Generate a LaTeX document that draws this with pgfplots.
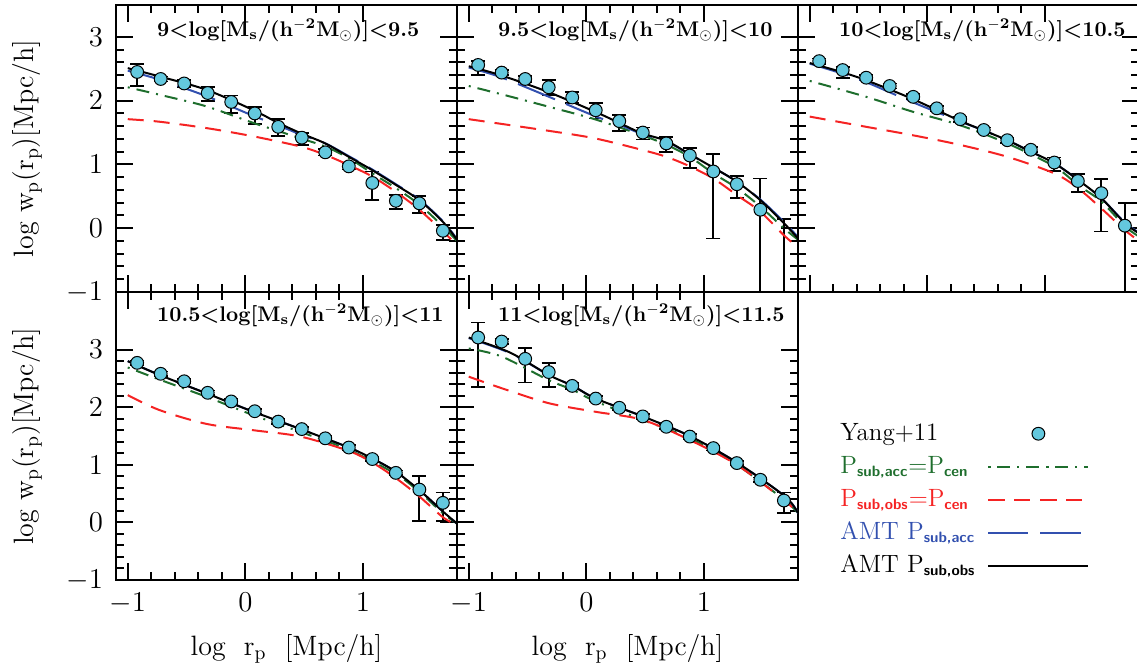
\documentclass[border=0pt]{standalone}
\usepackage{pgfplots}
\pgfplotsset{compat=1.18}
\definecolor{cfill}{RGB}{100,200,222}
\definecolor{cgreen}{RGB}{30,110,45}
\definecolor{cred}{RGB}{245,35,35}
\definecolor{cblue}{RGB}{50,80,175}
\newcommand{\ssub}[1]{\textsubscript{\fontsize{7.5}{8}\selectfont\sffamily\bfseries #1}}
\tikzset{ttl/.style={anchor=west, font=\fontsize{10.6}{12}\selectfont\bfseries}}
\pgfplotsset{
  panel/.style={
    scale only axis, width=170.5pt, height=143.5pt,
    anchor=north west,
    xmin=-1.1, xmax=1.8, ymin=-1, ymax=3.5,
    xtick={-1,0,1}, ytick={-1,0,1,2,3},
    minor x tick num=4, minor y tick num=4,
    tick align=inside, major tick length=8.5pt, minor tick length=4pt,
    every tick/.style={black, line width=1pt},
    axis line style={line width=1.3pt},
    xticklabels={}, yticklabels={},
    tick label style={font=\fontsize{13.5}{15}\selectfont},
    xticklabel style={yshift=-3pt},
    yticklabel style={xshift=-3pt},
    label style={font=\fontsize{14}{16}\selectfont},
    ylabel style={at={(axis description cs:-0.26,0.5)}, anchor=center},
    xlabel style={at={(axis description cs:0.5,-0.24)}, anchor=center},
  },
  ylab/.style={yticklabels={$-1$,$0$,$1$,$2$,$3$}, ylabel={log\ w\textsubscript{p}(r\textsubscript{p})[Mpc/h]}},
  xlab/.style={xticklabels={$-1$,$0$,$1$}, xlabel={log\ \ r\textsubscript{p}\ \ [Mpc/h]}},
  dat/.style={only marks, mark=*, mark size=3.2pt, mark options={fill=cfill, draw=black, line width=0.5pt},
    error bars/.cd, y dir=both, y explicit,
    error bar style={line width=0.9pt, black},
    error mark options={rotate=90, mark size=3.5pt, line width=0.9pt, black}},
  gr/.style={cgreen, line width=1pt, dash pattern=on 1pt off 3.5pt on 6.5pt off 3.5pt, smooth},
  rd/.style={cred, line width=1pt, dash pattern=on 8pt off 5pt, smooth},
  bl/.style={cblue, line width=1pt, dash pattern=on 20pt off 6pt, smooth},
  bk/.style={black, line width=1pt, smooth},
}
\begin{document}
\begin{tikzpicture}
\path[use as bounding box] (-58pt,2.5pt) rectangle (510.5pt,-330.5pt);
% ---------- panel 1 ----------
\begin{axis}[panel, ylab, at={(0pt,0pt)}]
\addplot+[dat] table[x=x,y=y,y error plus=ep,y error minus=em] {
x y ep em
-0.92 2.45 0.13 0.22
-0.72 2.34 0.04 0.04
-0.52 2.27 0.05 0.05
-0.32 2.12 0.09 0.13
-0.12 1.98 0.10 0.17
0.08 1.80 0.10 0.17
0.28 1.59 0.12 0.14
0.48 1.42 0.07 0.11
0.68 1.19 0.05 0.05
0.88 0.97 0.05 0.05
1.08 0.71 0.18 0.27
1.28 0.43 0.09 0.13
1.48 0.39 0.11 0.15
1.68 -0.04 0.09 0.14
};
\addplot[gr] coordinates {(-1.0,2.21) (-0.7,2.08) (-0.33,1.91) (0.07,1.65) (0.47,1.41) (0.68,1.28) (0.88,1.10) (1.08,0.86) (1.28,0.63) (1.48,0.37) (1.68,0.03) (1.8,-0.2)};
\addplot[rd] coordinates {(-1.0,1.71) (-0.73,1.67) (-0.33,1.57) (0.07,1.44) (0.47,1.28) (0.68,1.15) (0.88,0.99) (1.08,0.81) (1.28,0.57) (1.48,0.29) (1.68,-0.05) (1.8,-0.26)};
\addplot[bl] coordinates {(-1.0,2.47) (-0.73,2.33) (-0.33,2.07) (0.07,1.76) (0.27,1.62) (0.47,1.47) (0.68,1.33) (0.88,1.13) (1.08,0.92) (1.28,0.69) (1.48,0.45) (1.68,0.11) (1.8,-0.17)};
\addplot[bk] coordinates {(-1.0,2.51) (-0.73,2.38) (-0.33,2.17) (0.07,1.85) (0.27,1.66) (0.47,1.49) (0.68,1.33) (0.88,1.12) (1.08,0.91) (1.28,0.68) (1.48,0.44) (1.68,0.10) (1.8,-0.18)};
\node[ttl] at (rel axis cs:0.1,0.913) {9<log[M\textsubscript{s}/(h\textsuperscript{$-$2}M\textsubscript{$\odot$})]<9.5};
\end{axis}
% ---------- panel 2 ----------
\begin{axis}[panel, at={(170.5pt,0pt)}]
\addplot+[dat] table[x=x,y=y,y error plus=ep,y error minus=em] {
x y ep em
-0.92 2.56 0.06 0.16
-0.72 2.44 0.04 0.04
-0.52 2.34 0.05 0.05
-0.32 2.21 0.11 0.12
-0.12 2.05 0.09 0.09
0.08 1.85 0.11 0.13
0.28 1.68 0.10 0.15
0.48 1.50 0.08 0.11
0.68 1.33 0.10 0.14
0.88 1.14 0.12 0.20
1.08 0.89 0.27 1.05
1.28 0.69 0.13 0.21
1.48 0.29 0.49 1.50
1.68 -1.50 1.64 0.20
};
\addplot[gr] coordinates {(-1,2.23) (-0.7,2.09) (-0.33,1.91) (0.07,1.71) (0.47,1.46) (0.68,1.31) (0.88,1.12) (1.08,0.86) (1.28,0.63) (1.48,0.34) (1.68,0.0) (1.8,-0.18)};
\addplot[rd] coordinates {(-1,1.71) (-0.33,1.53) (0.07,1.41) (0.47,1.23) (0.68,1.12) (0.88,0.97) (1.08,0.78) (1.28,0.52) (1.48,0.26) (1.68,-0.11) (1.8,-0.3)};
\addplot[bl] coordinates {(-1,2.52) (-0.73,2.37) (-0.33,2.07) (0.07,1.76) (0.27,1.63) (0.47,1.48) (0.68,1.36) (0.88,1.16) (1.08,0.95) (1.28,0.73) (1.48,0.45) (1.68,0.10) (1.8,-0.14)};
\addplot[bk] coordinates {(-1.0,2.54) (-0.73,2.40) (-0.33,2.14) (0.07,1.83) (0.27,1.66) (0.47,1.49) (0.68,1.37) (0.88,1.16) (1.08,0.95) (1.28,0.73) (1.48,0.44) (1.68,0.08) (1.8,-0.16)};
\node[ttl] at (rel axis cs:0.1,0.913) {9.5<log[M\textsubscript{s}/(h\textsuperscript{$-$2}M\textsubscript{$\odot$})]<10};
\end{axis}
% ---------- panel 3 ----------
\begin{axis}[panel, at={(341pt,0pt)}]
\addplot+[dat] table[x=x,y=y,y error plus=ep,y error minus=em] {
x y ep em
-0.92 2.62 0.04 0.04
-0.72 2.48 0.05 0.13
-0.52 2.36 0.04 0.04
-0.32 2.23 0.04 0.04
-0.12 2.06 0.04 0.04
0.08 1.88 0.04 0.04
0.28 1.71 0.04 0.04
0.48 1.54 0.04 0.04
0.68 1.38 0.04 0.04
0.88 1.23 0.04 0.04
1.08 1.03 0.08 0.13
1.28 0.74 0.11 0.17
1.48 0.55 0.22 0.60
1.68 0.04 0.36 1.20
};
\addplot[gr] coordinates {(-1,2.31) (-0.52,2.06) (-0.13,1.83) (0.27,1.62) (0.68,1.33) (1.08,0.97) (1.28,0.68) (1.48,0.42) (1.68,0.03) (1.8,-0.13)};
\addplot[rd] coordinates {(-1,1.75) (-0.52,1.59) (-0.13,1.46) (0.27,1.31) (0.68,1.12) (1.08,0.86) (1.28,0.63) (1.48,0.31) (1.68,-0.03) (1.8,-0.2)};
\addplot[bl] coordinates {(-1,2.58) (-0.75,2.44) (-0.52,2.29) (-0.13,1.98) (0.27,1.68) (0.47,1.54) (0.68,1.38) (0.88,1.20) (1.08,1.02) (1.28,0.76) (1.48,0.47) (1.68,0.09) (1.8,-0.07)};
\addplot[bk] coordinates {(-1,2.59) (-0.75,2.46) (-0.52,2.32) (-0.13,2.03) (0.27,1.69) (0.47,1.54) (0.68,1.38) (0.88,1.20) (1.08,1.02) (1.28,0.76) (1.48,0.47) (1.68,0.08) (1.8,-0.08)};
\node[ttl] at (rel axis cs:0.1,0.913) {10<log[M\textsubscript{s}/(h\textsuperscript{$-$2}M\textsubscript{$\odot$})]<10.5};
\end{axis}
% ---------- panel 4 ----------
\begin{axis}[panel, ylab, xlab, height=144pt, ymax=4, at={(0pt,-143.5pt)}]
\addplot+[dat] table[x=x,y=y,y error plus=ep,y error minus=em] {
x y ep em
-0.92 2.77 0.04 0.04
-0.72 2.58 0.04 0.04
-0.52 2.45 0.04 0.04
-0.32 2.25 0.04 0.04
-0.12 2.10 0.04 0.04
0.08 1.93 0.04 0.04
0.28 1.75 0.04 0.04
0.48 1.62 0.04 0.04
0.68 1.46 0.04 0.04
0.88 1.30 0.04 0.04
1.08 1.10 0.04 0.04
1.28 0.86 0.04 0.04
1.48 0.57 0.24 0.54
1.68 0.34 0.18 0.31
};
\addplot[gr] coordinates {(-1,2.69) (-0.73,2.48) (-0.33,2.18) (0.07,1.86) (0.47,1.57) (0.88,1.26) (1.28,0.84) (1.48,0.53) (1.68,0.16) (1.8,-0.02)};
\addplot[rd] coordinates {(-1,2.21) (-0.73,1.95) (-0.33,1.71) (0.07,1.60) (0.47,1.49) (0.88,1.24) (1.08,1.04) (1.28,0.77) (1.48,0.45) (1.68,0.09) (1.8,-0.05)};
\addplot[bl] coordinates {(-1,2.80) (-0.73,2.56) (-0.33,2.24) (0.07,1.92) (0.47,1.62) (0.88,1.30) (1.08,1.11) (1.28,0.88) (1.48,0.56) (1.68,0.19) (1.8,-0.02)};
\addplot[bk] coordinates {(-1,2.80) (-0.73,2.56) (-0.33,2.24) (0.07,1.92) (0.47,1.62) (0.88,1.30) (1.08,1.11) (1.28,0.88) (1.48,0.56) (1.68,0.19) (1.8,-0.02)};
\node[ttl] at (rel axis cs:0.1,0.92) {10.5<log[M\textsubscript{s}/(h\textsuperscript{$-$2}M\textsubscript{$\odot$})]<11};
\end{axis}
% ---------- panel 5 ----------
\begin{axis}[panel, xlab, height=144pt, ymax=4, at={(170.5pt,-143.5pt)}]
\addplot+[dat] table[x=x,y=y,y error plus=ep,y error minus=em] {
x y ep em
-0.92 3.21 0.26 0.86
-0.72 3.14 0.04 0.04
-0.52 2.84 0.19 0.41
-0.32 2.61 0.16 0.26
-0.12 2.37 0.05 0.05
0.08 2.15 0.04 0.04
0.28 1.99 0.04 0.04
0.48 1.84 0.04 0.04
0.68 1.66 0.04 0.04
0.88 1.49 0.04 0.04
1.08 1.29 0.04 0.04
1.28 1.03 0.04 0.04
1.48 0.74 0.04 0.04
1.68 0.38 0.14 0.22
};
\addplot[gr] coordinates {(-1,3.02) (-0.72,2.88) (-0.32,2.47) (-0.115,2.30) (0.08,2.10) (0.48,1.78) (0.88,1.46) (1.28,1.00) (1.69,0.38) (1.8,0.16)};
\addplot[rd] coordinates {(-1,2.53) (-0.72,2.33) (-0.32,2.07) (0.08,1.92) (0.48,1.78) (0.88,1.43) (1.28,1.00) (1.69,0.37) (1.8,0.16)};
\addplot[bl] coordinates {(-1,3.20) (-0.65,2.94) (-0.32,2.56) (-0.115,2.37) (0.08,2.15) (0.48,1.84) (0.88,1.50) (1.28,1.04) (1.69,0.45) (1.8,0.16)};
\addplot[bk] coordinates {(-1,3.21) (-0.65,2.95) (-0.32,2.56) (-0.115,2.37) (0.08,2.15) (0.48,1.84) (0.88,1.50) (1.28,1.04) (1.69,0.45) (1.8,0.16)};
\node[ttl] at (rel axis cs:0.1,0.92) {11<log[M\textsubscript{s}/(h\textsuperscript{$-$2}M\textsubscript{$\odot$})]<11.5};
\end{axis}
% ---------- legend ----------
\begin{axis}[at={(341pt,-143.5pt)}, anchor=north west, scale only axis, width=170.5pt, height=144pt,
  hide axis, xmin=0, xmax=1, ymin=0, ymax=1,
  legend plot pos=right, legend cell align=left,
  legend image code/.code={\draw[mark repeat=2,mark phase=2,#1] plot coordinates {(0pt,0pt) (25pt,0pt) (50pt,0pt)};},
  legend style={draw=none, fill=none, at={(0.0997,0.577)}, anchor=north west,
    font=\fontsize{12.5}{14}\selectfont, row sep=1pt, column sep=0pt,
    nodes={inner sep=1pt, text height=10pt, text depth=3.5pt, text width=72.5pt}}]
\addlegendimage{only marks, mark=*, mark size=3.2pt, mark options={fill=cfill, draw=black, line width=0.5pt}}
\addlegendentry{\mbox{Yang+11}}
\addlegendimage{gr}
\addlegendentry{\mbox{\textcolor{cgreen}{P\ssub{sub,acc}=P\ssub{cen}}}}
\addlegendimage{rd}
\addlegendentry{\mbox{\textcolor{cred}{P\ssub{sub,obs}=P\ssub{cen}}}}
\addlegendimage{bl}
\addlegendentry{\mbox{\textcolor{cblue}{AMT\ P\ssub{sub,acc}}}}
\addlegendimage{bk}
\addlegendentry{\mbox{AMT\ P\ssub{sub,obs}}}
\end{axis}
\end{tikzpicture}
\end{document}
